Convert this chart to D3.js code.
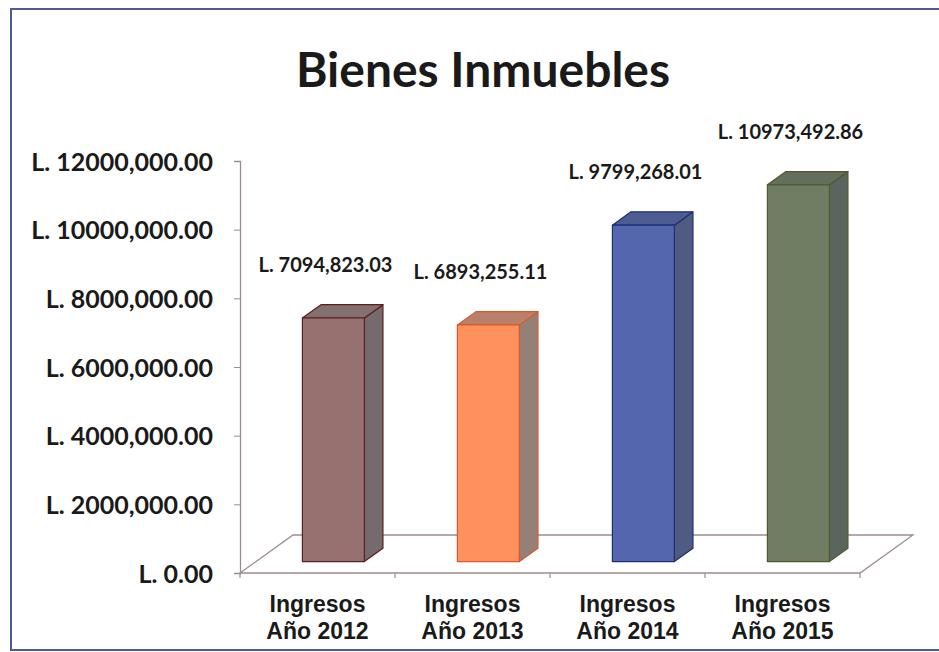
<!DOCTYPE html>
<html>
<head>
<meta charset="utf-8">
<script src="https://cdn.jsdelivr.net/npm/d3@7"></script>
<style>
  html, body { margin: 0; padding: 0; background: #ffffff; }
  svg { display: block; }
</style>
</head>
<body>
<svg id="chart" width="939" height="652"></svg>
<script>
// ---- data ----
const title = "Bienes Inmuebles";
const categories = ["Ingresos|Año 2012", "Ingresos|Año 2013", "Ingresos|Año 2014", "Ingresos|Año 2015"];
const values = [7094823.03, 6893255.11, 9799268.01, 10973492.86];
const valueLabels = ["L. 7094,823.03", "L. 6893,255.11", "L. 9799,268.01", "L. 10973,492.86"];
const yTicks = [0, 2000000, 4000000, 6000000, 8000000, 10000000, 12000000];
const yTickLabels = ["L. 0.00", "L. 2000,000.00", "L. 4000,000.00", "L. 6000,000.00", "L. 8000,000.00", "L. 10000,000.00", "L. 12000,000.00"];
const frontColors = ["#977070", "#ff915e", "#5467ae", "#6f7e62"];
const sideColors  = ["#756a6e", "#958078", "#4f5b82", "#5b6560"];
const topColors   = ["#84706f", "#b9806a", "#4d5d92", "#636e5c"];
const edgeColors  = ["#5a1f22", "#d9582c", "#1f2d72", "#4f5a2a"];

// ---- layout ----
const svg = d3.select("#chart");
const x0 = 240, x1 = 860, yBase = 573, yTop = 161;
const depth = { dx: 53, dy: -38 };      // floor depth vector
const dFront = 0.3, dBack = 0.65;         // bar depth span

const x = d3.scaleBand().domain(categories).range([x0, x1]).paddingInner(0).paddingOuter(0);
const y = d3.scaleLinear().domain([0, 12000000]).range([yBase, yTop]);
const barW = x.bandwidth() * 0.4;

// frame
svg.append("rect").attr("x", 11).attr("y", 9).attr("width", 940).attr("height", 641)
  .attr("fill", "none").attr("stroke", "#4b5c96").attr("stroke-width", 2);

// title
svg.append("text").attr("x", 483).attr("y", 87).attr("text-anchor", "middle")
  .attr("font-family", "Lato, 'Open Sans', sans-serif").attr("font-weight", "bold")
  .attr("font-size", 48).attr("fill", "#1a1a1a").text(title);

// floor
const floorColor = "#9c8c8e";
const fl = [[x0, yBase], [x1, yBase], [x1 + depth.dx, yBase + depth.dy], [x0 + depth.dx, yBase + depth.dy]];
svg.append("path").attr("d", d3.line()(fl) + "Z").attr("fill", "none")
  .attr("stroke", floorColor).attr("stroke-width", 1.3);

// y axis
const yAxis = d3.axisLeft(y).tickValues(yTicks).tickSize(6).tickFormat((d, i) => yTickLabels[i]);
const gy = svg.append("g").attr("transform", `translate(${x0},0)`).call(yAxis);
gy.select(".domain").attr("stroke", floorColor).attr("stroke-width", 1.3);
gy.selectAll(".tick line").attr("stroke", floorColor);
gy.selectAll(".tick text").attr("x", -27).attr("dy", "0.36em")
  .attr("font-family", "Lato, 'Open Sans', sans-serif").attr("font-weight", "bold")
  .attr("font-size", 25).attr("fill", "#1a1a1a");

// x axis
const xAxis = d3.axisBottom(x).tickSize(0).tickFormat("");
const gx = svg.append("g").attr("transform", `translate(0,${yBase})`).call(xAxis);
gx.select(".domain").remove();
// boundary ticks
const bounds = categories.map(c => x(c)).concat([x1]);
svg.append("g").selectAll("line").data(bounds).join("line")
  .attr("x1", d => d).attr("x2", d => d).attr("y1", yBase).attr("y2", yBase + 5)
  .attr("stroke", floorColor).attr("stroke-width", 1.2);

// x labels
const xl = svg.append("g").selectAll("text").data(categories).join("text")
  .attr("x", d => x(d) + x.bandwidth() / 2).attr("y", 612).attr("text-anchor", "middle")
  .attr("font-family", "'Liberation Sans', Arial, sans-serif").attr("font-weight", "bold")
  .attr("font-size", 23).attr("fill", "#1a1a1a");
xl.each(function(d) {
  const parts = d.split("|");
  const t = d3.select(this);
  t.append("tspan").attr("x", x(d) + x.bandwidth() / 2).attr("dy", 0).text(parts[0]);
  t.append("tspan").attr("x", x(d) + x.bandwidth() / 2).attr("dy", 27).text(parts[1]);
});

// bars (3D)
const bars = svg.append("g");
categories.forEach((c, i) => {
  const v = values[i];
  const cx = x(c) + x.bandwidth() / 2;
  const fx = cx - barW / 2 + dFront * depth.dx;
  const fy0 = y(0) + dFront * depth.dy;
  const fy1 = y(v) + dFront * depth.dy;
  const bdx = (dBack - dFront) * depth.dx, bdy = (dBack - dFront) * depth.dy;
  const g = bars.append("g").attr("stroke", edgeColors[i]).attr("stroke-width", 1.2).attr("stroke-linejoin", "round");
  // side
  g.append("path").attr("fill", sideColors[i]).attr("d", d3.line()([
    [fx + barW, fy0], [fx + barW + bdx, fy0 + bdy], [fx + barW + bdx, fy1 + bdy], [fx + barW, fy1]
  ]) + "Z");
  // top
  g.append("path").attr("fill", topColors[i]).attr("d", d3.line()([
    [fx, fy1], [fx + barW, fy1], [fx + barW + bdx, fy1 + bdy], [fx + bdx, fy1 + bdy]
  ]) + "Z");
  // front
  g.append("rect").attr("x", fx).attr("y", fy1).attr("width", barW).attr("height", fy0 - fy1)
    .attr("fill", frontColors[i]);
});

// value labels
svg.append("g").selectAll("text").data(categories).join("text")
  .attr("x", (d, i) => x(d) + x.bandwidth() / 2 + 8)
  .attr("y", (d, i) => y(values[i]) + dFront * depth.dy - 46)
  .attr("text-anchor", "middle")
  .attr("font-family", "Lato, 'Open Sans', sans-serif").attr("font-weight", "bold")
  .attr("font-size", 20).attr("fill", "#1a1a1a")
  .text((d, i) => valueLabels[i]);
</script>
</body>
</html>
